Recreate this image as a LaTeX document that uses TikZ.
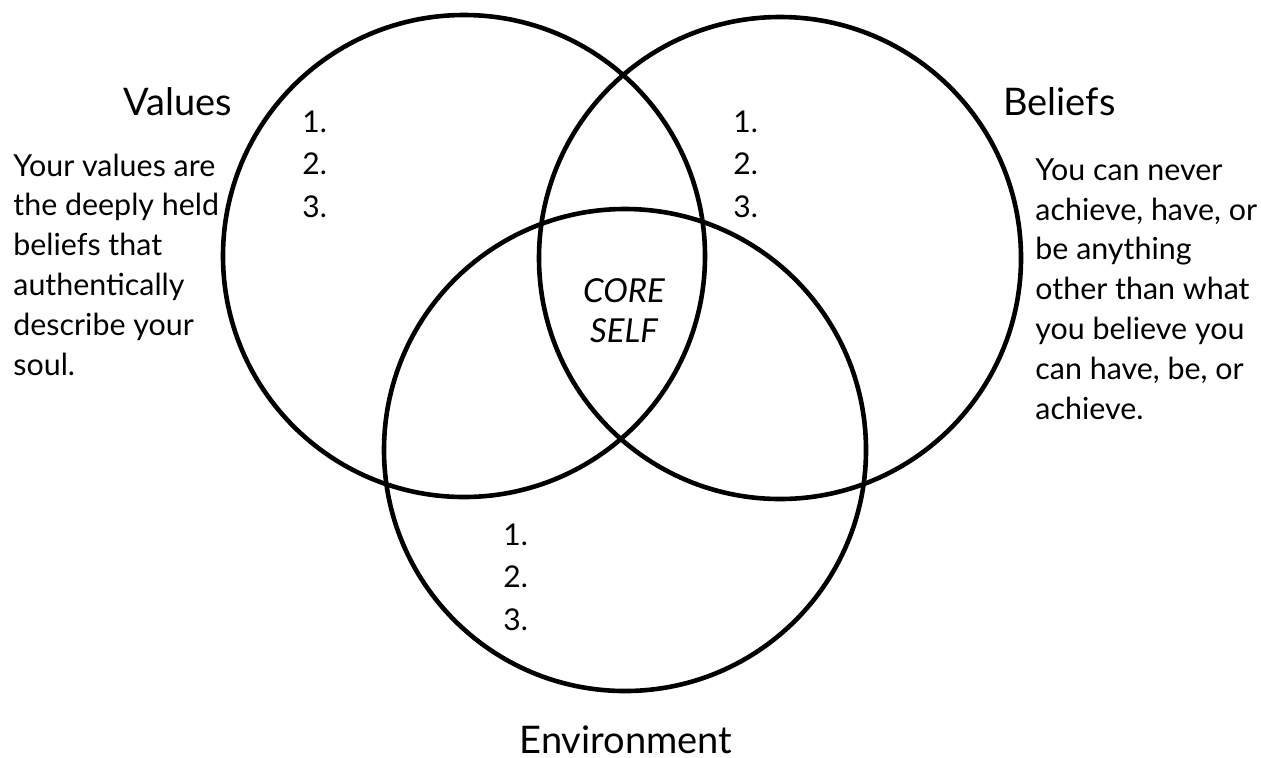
\documentclass[tikz,border=0pt]{standalone}
\usepackage{fontspec}
\setmainfont{Lato}
\begin{document}
\begin{tikzpicture}[x=0.5pt,y=-0.5pt,
  ring/.style={draw,circle,line width=2.3pt,minimum size=241pt,inner sep=0pt},
  head/.style={anchor=base west,inner sep=0pt,font=\fontsize{19}{23}\selectfont},
  body/.style={anchor=base west,inner sep=0pt,align=left,font=\fontsize{15.2}{19.9}\selectfont},
  list/.style={anchor=base west,inner sep=0pt,align=left,font=\fontsize{15}{21.25}\selectfont}]
  \useasboundingbox (0,0) rectangle (1261,757);
  \node[ring] (V) at (464,256) {};
  \node[ring] (B) at (780,258) {};
  \node[ring] (E) at (625,450) {};
  \node[head] (VT) at (123,115) {Values};
  \node[head] (BT) at (1003,115) {Beliefs};
  \node[head,anchor=base] (ET) at (626,753) {Environment};
  \node[body] (VD) at (13,375) {Your values are\\the deeply held\\beliefs that\\authentically\\describe your\\soul.};
  \node[body] (BD) at (1035,419) {You can never\\achieve, have, or\\be anything\\other than what\\you believe you\\can have, be, or\\achieve.};
  \node[list] (VL) at (302,217) {1.\\2.\\3.};
  \node[list] (BL) at (733,217) {1.\\2.\\3.};
  \node[list] (EL) at (503,630) {1.\\2.\\3.};
  \node[anchor=base,inner sep=0pt,align=center,font=\fontsize{16.5}{20}\selectfont\itshape] (CS) at (624,342) {CORE\\SELF};
\end{tikzpicture}
\end{document}
